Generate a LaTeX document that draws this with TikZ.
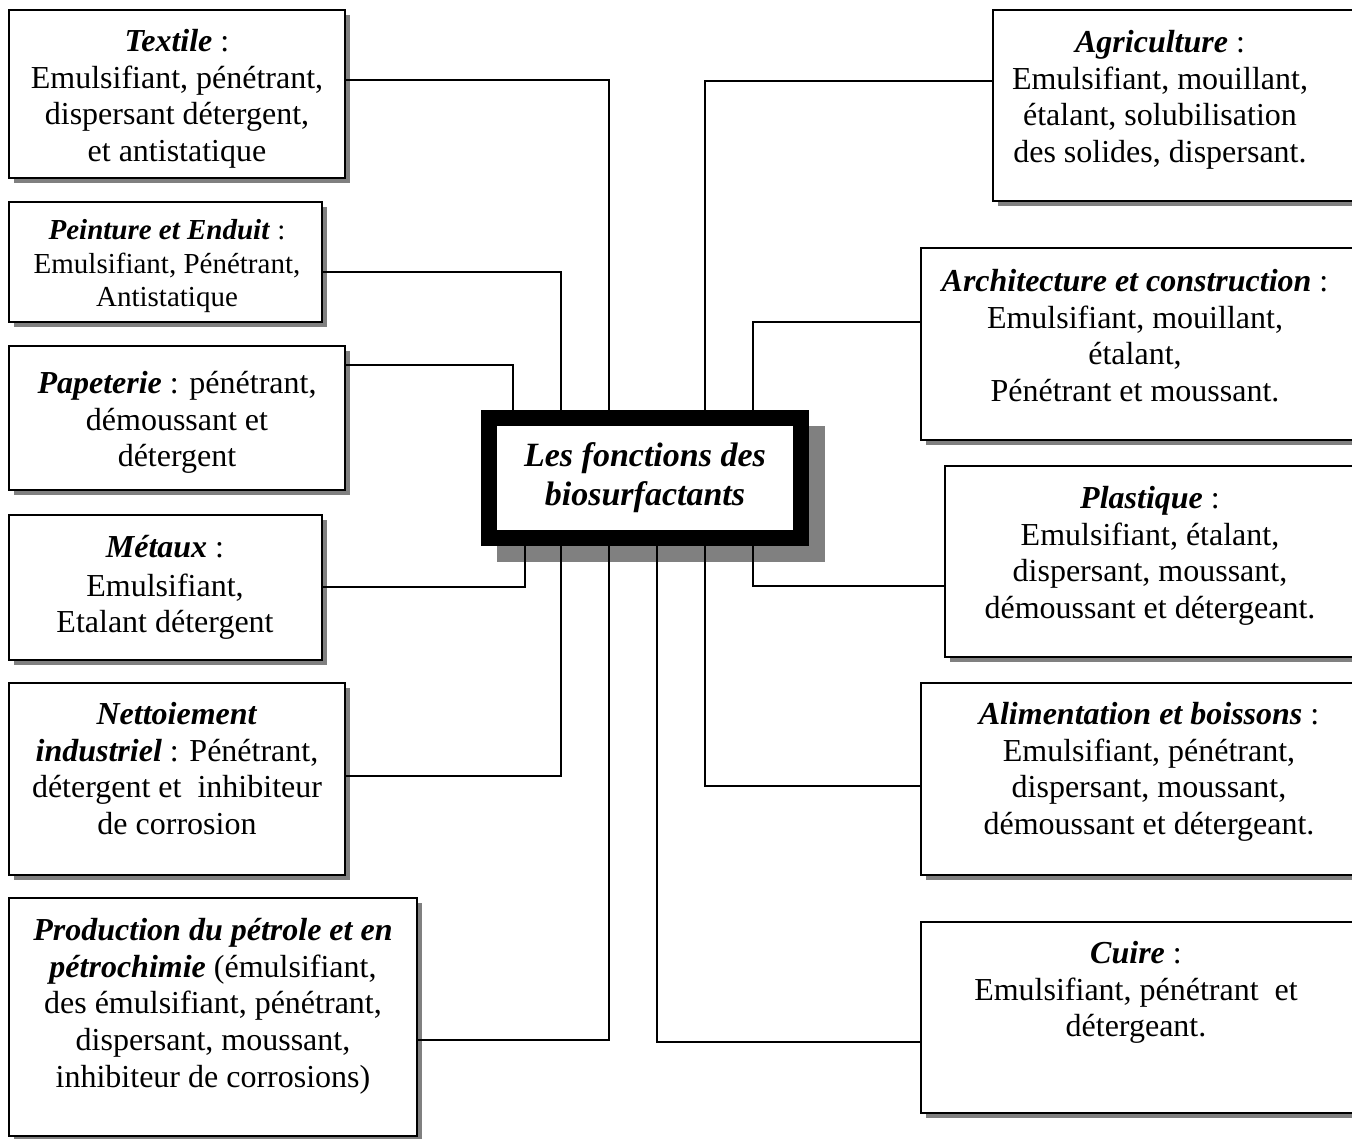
\documentclass[tikz,border=0pt]{standalone}
\usepackage{fontspec}
\setmainfont{Liberation Serif}
\usetikzlibrary{shadows}
\newcommand\tstrut{\rule{0pt}{0.75em}}
\newcommand\bi[1]{\textbf{\textit{#1}}}
\definecolor{shadowgray}{HTML}{808080}
\begin{document}
\begin{tikzpicture}[x=1pt,y=-1pt,
  box/.style={draw, line width=2pt, fill=white, inner sep=0pt, outer sep=0pt,
    drop shadow={shadow xshift=5pt, shadow yshift=-5pt, fill=shadowgray, opacity=1}},
  txt/.style={anchor=north, align=center, inner sep=0pt,
    font=\fontsize{32pt}{36.8pt}\selectfont},
  smalltxt/.style={txt, font=\fontsize{29pt}{33.4pt}\selectfont},
  conn/.style={line width=2pt}]
\useasboundingbox (0,0) rectangle (1352,1138);
\clip (0,0) rectangle (1352,1138);
\fill[white] (0,0) rectangle (1352,1138);

% left boxes
\node[box, minimum width=336pt, minimum height=168pt, anchor=north west] (textile) at (9,10) {};
\node[box, minimum width=313pt, minimum height=120pt, anchor=north west] (peinture) at (9,202) {};
\node[box, minimum width=336pt, minimum height=144pt, anchor=north west] (papeterie) at (9,346) {};
\node[box, minimum width=313pt, minimum height=145pt, anchor=north west] (metaux) at (9,515) {};
\node[box, minimum width=336pt, minimum height=192pt, anchor=north west] (nettoiement) at (9,683) {};
\node[box, minimum width=408pt, minimum height=238pt, anchor=north west] (production) at (9,898) {};

% right boxes
\node[box, minimum width=420pt, minimum height=191pt, anchor=north west] (agriculture) at (993,10) {};
\node[box, minimum width=490pt, minimum height=192pt, anchor=north west] (architecture) at (921,248) {};
\node[box, minimum width=470pt, minimum height=191pt, anchor=north west] (plastique) at (945,466) {};
\node[box, minimum width=490pt, minimum height=192pt, anchor=north west] (alimentation) at (921,683) {};
\node[box, minimum width=490pt, minimum height=191pt, anchor=north west] (cuire) at (921,922) {};

% texts
\node[txt] (textileT) at (177,27) {\tstrut\bi{Textile} :\\ Emulsifiant, pénétrant,\\ dispersant détergent,\\ et antistatique};
\node[smalltxt] (peintureT) at (167,218) {\tstrut\bi{Peinture et Enduit} :\\ Emulsifiant, Pénétrant,\\ Antistatique};
\node[txt] (papeterieT) at (177,369) {\tstrut\bi{Papeterie} : pénétrant,\\ démoussant et\\ détergent};
\node[txt] (metauxT) at (165,533) {\tstrut\bi{Métaux} :\\[2pt] Emulsifiant,\\ Etalant détergent};
\node[txt] (nettoiementT) at (177,700) {\tstrut\bi{Nettoiement}\\ \bi{industriel} : Pénétrant,\\ détergent et\ \ inhibiteur\\ de corrosion};
\node[txt] (productionT) at (213,916) {\tstrut\bi{Production du pétrole et en}\\ \bi{pétrochimie} (émulsifiant,\\ des émulsifiant, pénétrant,\\ dispersant, moussant,\\ inhibiteur de corrosions)};
\node[txt] (agricultureT) at (1160,28) {\tstrut\bi{Agriculture} :\\ Emulsifiant, mouillant,\\ étalant, solubilisation\\ des solides, dispersant.};
\node[txt] (architectureT) at (1135,267) {\tstrut\bi{Architecture et construction} :\\ Emulsifiant, mouillant,\\ étalant,\\ Pénétrant et moussant.};
\node[txt] (plastiqueT) at (1150,484) {\tstrut\bi{Plastique} :\\ Emulsifiant, étalant,\\ dispersant, moussant,\\ démoussant et détergeant.};
\node[txt] (alimentationT) at (1149,700) {\tstrut\bi{Alimentation et boissons} :\\ Emulsifiant, pénétrant,\\ dispersant, moussant,\\ démoussant et détergeant.};
\node[txt] (cuireT) at (1136,939) {\tstrut\bi{Cuire} :\\ Emulsifiant, pénétrant\ \ et\\ détergeant.};

% centre box
\fill[shadowgray] (497,426) rectangle (825,562);
\node[fill=black, minimum width=328pt, minimum height=136pt, inner sep=0pt, outer sep=0pt, anchor=north west] (ctr) at (481,410) {};
\node[fill=white, minimum width=296pt, minimum height=104pt, inner sep=0pt, align=center,
  font=\fontsize{34pt}{39pt}\selectfont\bfseries\itshape] (ctrT) at (ctr.center) {Les fonctions des\\ biosurfactants};

% attach points on the centre box
\coordinate (t513) at ([xshift=32pt]ctr.north west);
\coordinate (t561) at ([xshift=80pt]ctr.north west);
\coordinate (t609) at ([xshift=128pt]ctr.north west);
\coordinate (t705) at ([xshift=224pt]ctr.north west);
\coordinate (t753) at ([xshift=272pt]ctr.north west);
\coordinate (b525) at ([xshift=44pt]ctr.south west);
\coordinate (b561) at ([xshift=80pt]ctr.south west);
\coordinate (b609) at ([xshift=128pt]ctr.south west);
\coordinate (b657) at ([xshift=176pt]ctr.south west);
\coordinate (b705) at ([xshift=224pt]ctr.south west);
\coordinate (b753) at ([xshift=272pt]ctr.south west);

% connectors
\draw[conn] ([yshift=14pt]textile.east) -| (t609);
\draw[conn] ([yshift=-10pt]peinture.east) -| (t561);
\draw[conn] ([yshift=53pt]papeterie.east) -| (t513);
\draw[conn] ([yshift=1pt]metaux.east) -| (b525);
\draw[conn] ([yshift=3pt]nettoiement.east) -| (b561);
\draw[conn] ([yshift=-23pt]production.east) -| (b609);
\draw[conn] ([yshift=25pt]agriculture.west) -| (t705);
\draw[conn] ([yshift=22pt]architecture.west) -| (t753);
\draw[conn] ([yshift=-24pt]plastique.west) -| (b753);
\draw[conn] ([yshift=-7pt]alimentation.west) -| (b705);
\draw[conn] ([yshift=-24pt]cuire.west) -| (b657);
\end{tikzpicture}
\end{document}
